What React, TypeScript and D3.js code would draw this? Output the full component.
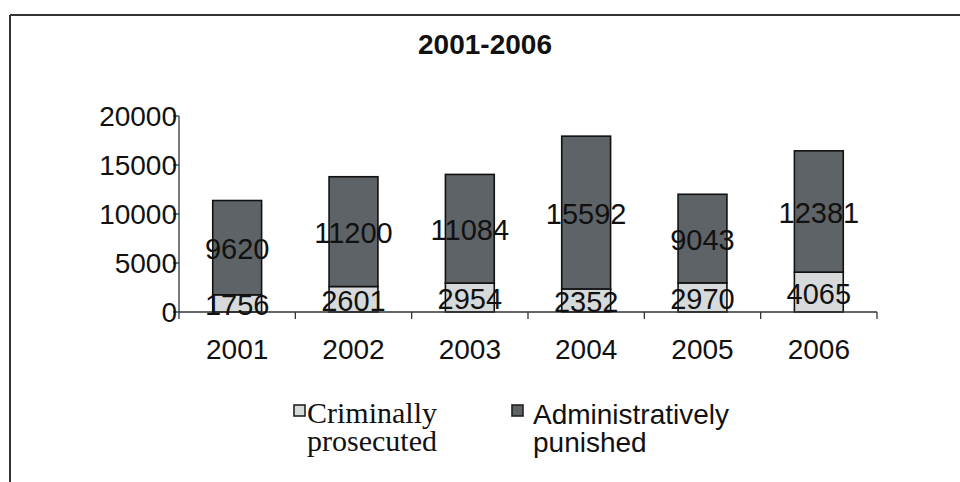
import React from "react";
import * as d3 from "d3";

const years = ["2001", "2002", "2003", "2004", "2005", "2006"];
const criminal = [1756, 2601, 2954, 2352, 2970, 4065];
const administrative = [9620, 11200, 11084, 15592, 9043, 12381];
const yTicks = [0, 5000, 10000, 15000, 20000];
const title = "2001-2006";
const seriesNames = ["Criminally prosecuted", "Administratively punished"];

const LIGHT = "#d7dadb";
const DARK = "#5d6366";
const SANS = "'Liberation Sans', Arial, sans-serif";
const SERIF = "'Liberation Serif', 'Times New Roman', serif";

export default function App() {
  const x = d3.scaleBand<string>().domain(years).range([179, 877]).paddingInner(0.58).paddingOuter(0.29);
  const y = d3.scaleLinear().domain([0, 20000]).range([312, 116]);
  const step = x.step();
  const boundaries = d3.range(years.length + 1).map((i) => 179 + i * step);

  return (
    <svg width={960} height={482} style={{ position: "absolute", left: 0, top: 0, background: "#fff" }}>
      {/* frame */}
      <line x1={10} y1={15} x2={960} y2={15} stroke="#333" strokeWidth={2} />
      <line x1={10} y1={15} x2={10} y2={482} stroke="#333" strokeWidth={2} />

      <text x={485} y={54} textAnchor="middle" fontFamily={SANS} fontWeight="bold" fontSize={28} fill="#111">
        {title}
      </text>

      {/* bars */}
      {years.map((yr, i) => {
        const bx = x(yr)!;
        const bw = x.bandwidth();
        const c = criminal[i];
        const a = administrative[i];
        return (
          <g key={yr}>
            <rect x={bx} y={y(c)} width={bw} height={y(0) - y(c)} fill={LIGHT} stroke="#111" strokeWidth={1.6} />
            <rect x={bx} y={y(c + a)} width={bw} height={y(c) - y(c + a)} fill={DARK} stroke="#111" strokeWidth={1.6} />
          </g>
        );
      })}

      {/* y axis */}
      <line x1={179} y1={y(20000)} x2={179} y2={y(0)} stroke="#333" strokeWidth={1.3} />
      {yTicks.map((t) => (
        <g key={t}>
          <line x1={173} x2={179} y1={y(t)} y2={y(t)} stroke="#333" strokeWidth={1.3} />
          <text x={177} y={y(t)} dy="0.36em" textAnchor="end" fontFamily={SANS} fontSize={28} fill="#111">
            {t}
          </text>
        </g>
      ))}

      {/* x axis */}
      <line x1={179} x2={877} y1={y(0)} y2={y(0)} stroke="#333" strokeWidth={1.3} />
      {boundaries.map((bx, i) => (
        <line key={i} x1={bx} x2={bx} y1={y(0)} y2={y(0) + 7} stroke="#333" strokeWidth={1.3} />
      ))}
      {years.map((yr) => (
        <text key={yr} x={x(yr)! + x.bandwidth() / 2} y={359} textAnchor="middle" fontFamily={SANS} fontSize={28} fill="#111">
          {yr}
        </text>
      ))}

      {/* data labels */}
      {years.map((yr, i) => {
        const cx = x(yr)! + x.bandwidth() / 2;
        const c = criminal[i];
        const a = administrative[i];
        return (
          <g key={yr} fontFamily={SANS} fontSize={29} fill="#111" textAnchor="middle">
            <text x={cx} y={(y(0) + y(c)) / 2 + 1} dy="0.36em">{c}</text>
            <text x={cx} y={(y(c) + y(c + a)) / 2 + 1} dy="0.36em">{a}</text>
          </g>
        );
      })}

      {/* legend */}
      <rect x={294} y={405} width={11} height={11} fill={LIGHT} stroke="#222" strokeWidth={1.6} />
      <text fontFamily={SERIF} fontSize={30} fill="#111">
        <tspan x={307} y={423}>Criminally</tspan>
        <tspan x={307} y={451}>prosecuted</tspan>
      </text>
      <rect x={512} y={405} width={11} height={11} fill={DARK} stroke="#222" strokeWidth={1.6} />
      <text fontFamily={SANS} fontSize={28} fill="#111">
        <tspan x={533} y={424}>Administratively</tspan>
        <tspan x={533} y={452}>punished</tspan>
      </text>
    </svg>
  );
}
